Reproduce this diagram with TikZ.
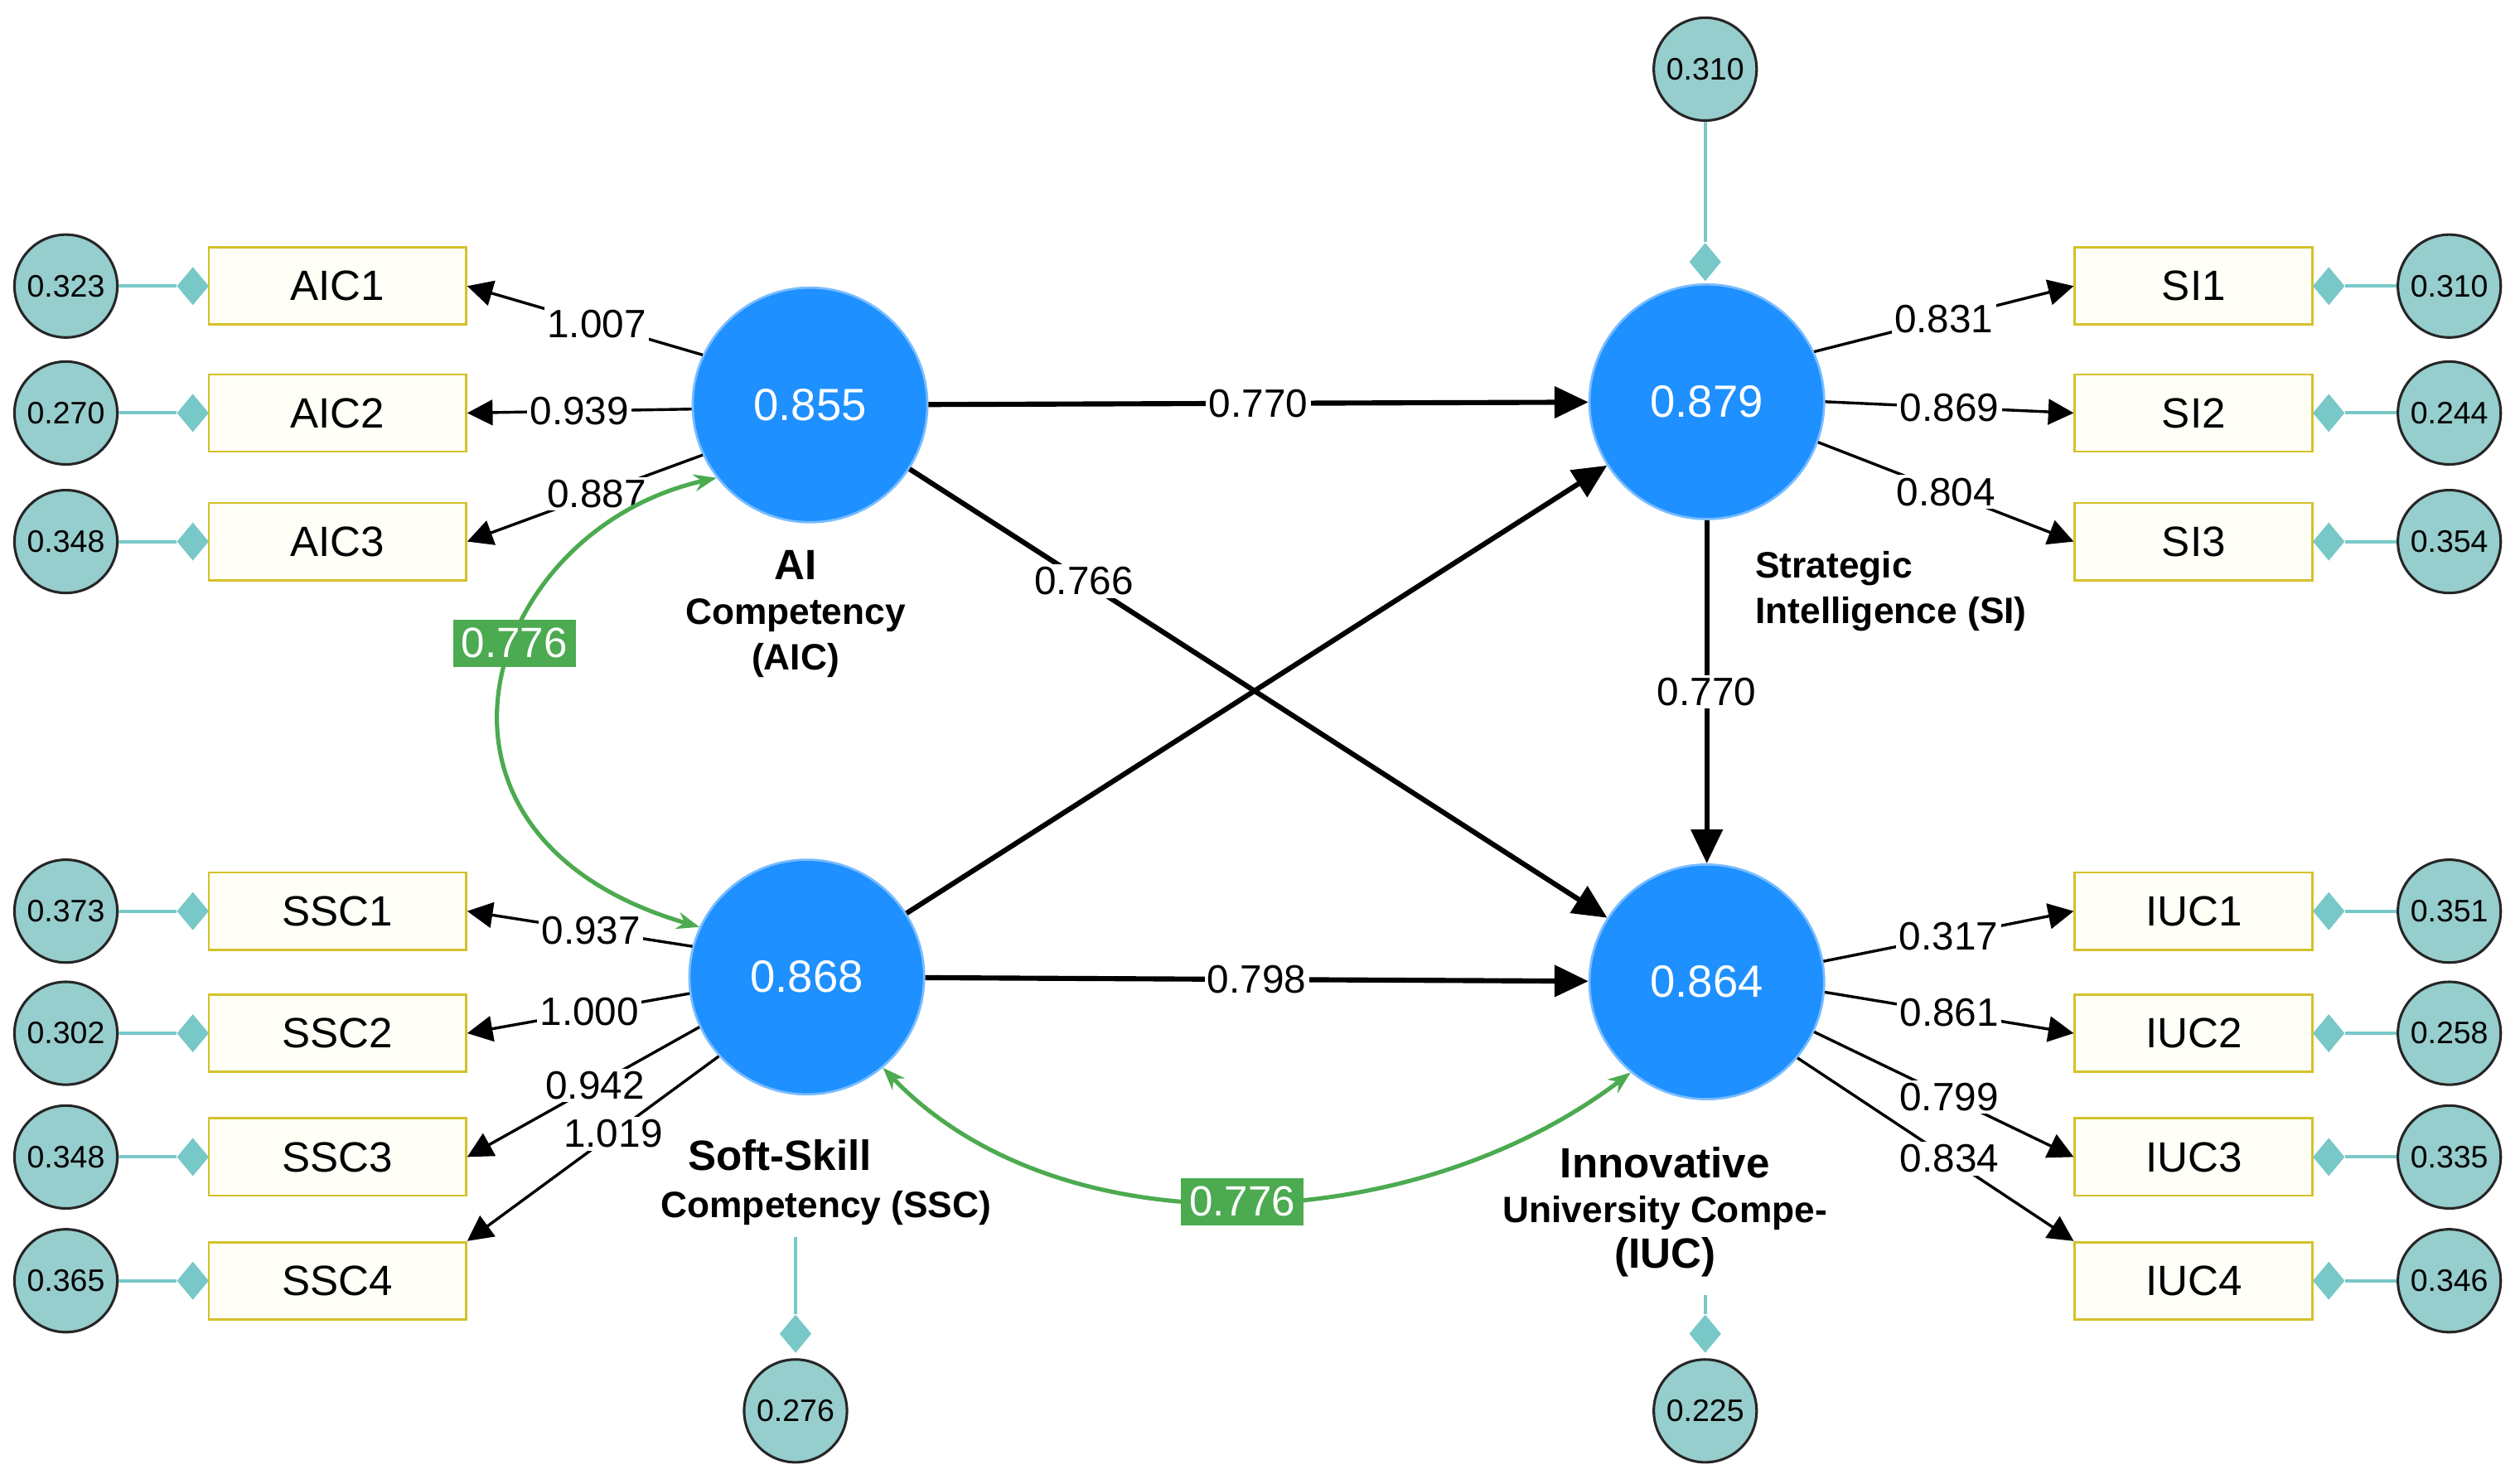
\documentclass[tikz,border=0pt]{standalone}
\usepackage{fontspec}
\setmainfont{Liberation Sans}
\usetikzlibrary{arrows.meta,shapes.geometric}
\definecolor{latblue}{RGB}{30,144,255}
\definecolor{errfill}{RGB}{150,205,205}
\definecolor{errline}{RGB}{120,200,200}
\definecolor{boxline}{RGB}{212,193,42}
\definecolor{covgreen}{RGB}{76,170,80}

\tikzset{
  latent/.style={circle,draw=latblue!60!white,line width=0.8pt,fill=latblue,minimum size=146\du,text=white,font=\fontsize{16}{16}\selectfont},
  indic/.style={rectangle,draw=boxline,line width=0.8pt,fill=yellow!3,minimum width=160\du,minimum height=48\du,font=\fontsize{15}{15}\selectfont},
  err/.style={circle,draw=black!85,line width=0.9pt,fill=errfill,minimum size=64\du,inner sep=0pt,font=\fontsize{11}{11}\selectfont},
  dia/.style={diamond,fill=errline,minimum width=20\du,minimum height=24\du,inner sep=0pt},
  errlink/.style={errline,line width=1.2pt},
  load/.style={black,line width=1pt,-{Triangle[length=9pt,width=9pt]}},
  path/.style={black,line width=1.8pt,-{Triangle[length=12pt,width=11pt]}},
  cov/.style={covgreen,line width=1.5pt,{Stealth[length=8pt,open]}-{Stealth[length=8pt,open]}},
  lbl/.style={fill=white,inner sep=1pt,font=\fontsize{14}{14}\selectfont},
  glbl/.style={fill=covgreen,text=white,inner sep=3pt,font=\fontsize{15}{15}\selectfont},
  cname/.style={font=\bfseries\fontsize{13}{16}\selectfont},
}
\newlength{\du}
\setlength{\du}{0.02cm}

\begin{document}
\begin{tikzpicture}[x=\du,y=-\du]
\useasboundingbox (0,0) rectangle (1568,917);
% latent constructs
\node[latent] (AIC) at (504,252) {0.855};
\node[latent] (SI) at (1062,250) {0.879};
\node[latent] (SSC) at (502,608) {0.868};
\node[latent] (IUC) at (1062,611) {0.864};
% construct names
\node[cname,align=center] (AICname) at (495,382) {{\fontsize{15}{15}\selectfont AI}\\Competency\\(AIC)};
\node[cname,align=left,anchor=west] (SIname) at (1086,368) {Strategic\\Intelligence (SI)};
\node[cname,anchor=west] (SSCname1) at (422,719) {\fontsize{15}{15}\selectfont Soft-Skill};
\node[cname,anchor=west] (SSCname2) at (405,752) {Competency (SSC)};
\node[cname,align=center] (IUCname) at (1036,754) {{\fontsize{15}{17}\selectfont Innovative}\\University Compe-\\{\fontsize{15}{15}\selectfont (IUC)}};
% left indicators
\foreach \name/\y/\e in {AIC1/178/0.323, AIC2/257/0.270, AIC3/337/0.348,
    SSC1/567/0.373, SSC2/643/0.302, SSC3/720/0.348, SSC4/797/0.365}{
  \node[indic] (\name) at (210,\y) {\name};
  \node[err] (e\name) at (41,\y) {\e};
  \node[dia] (d\name) at (120,\y) {};
  \draw[errlink] (e\name) -- (d\name);
}
% right indicators
\foreach \name/\y/\e in {SI1/178/0.310, SI2/257/0.244, SI3/337/0.354,
    IUC1/567/0.351, IUC2/643/0.258, IUC3/720/0.335, IUC4/797/0.346}{
  \node[indic,minimum width=148\du] (\name) at (1365,\y) {\name};
  \node[err] (e\name) at (1524,\y) {\e};
  \node[dia] (d\name) at (1449,\y) {};
  \draw[errlink] (e\name) -- (d\name);
}
% structural errors
\node[err] (eSI) at (1061,43) {0.310};
\node[dia] (dSI) at (1061,163) {};
\draw[errlink] (eSI) -- (dSI);
\node[err] (eSSC) at (495,878) {0.276};
\node[dia] (dSSC) at (495,830) {};
\coordinate (tSSC) at (495,770);
\draw[errlink] (tSSC) -- (dSSC);
\node[err] (eIUC) at (1061,878) {0.225};
\node[dia] (dIUC) at (1061,830) {};
\coordinate (tIUC) at (1061,806);
\draw[errlink] (tIUC) -- (dIUC);
% loadings
\draw[load] (AIC.155) -- node[lbl,pos=0.45] {1.007} (AIC1.east);
\draw[load] (AIC.182) -- node[lbl,pos=0.5] {0.939} (AIC2.east);
\draw[load] (AIC.205) -- node[lbl,pos=0.45] {0.887} (AIC3.east);
\draw[load] (SSC.165) -- node[lbl,pos=0.45] {0.937} (SSC1.east);
\draw[load] (SSC.188) -- node[lbl,pos=0.45] {1.000} (SSC2.east);
\draw[load] (SSC.205) -- node[lbl,pos=0.45] {0.942} (SSC3.east);
\draw[load] (SSC.222) -- node[lbl,pos=0.42] {1.019} (SSC4.north east);
\draw[load] (SI.25) -- node[lbl,pos=0.5] {0.831} (SI1.west);
\draw[load] (SI.0) -- node[lbl,pos=0.5] {0.869} (SI2.west);
\draw[load] (SI.-20) -- node[lbl,pos=0.5] {0.804} (SI3.west);
\draw[load] (IUC.10) -- node[lbl,pos=0.5] {0.317} (IUC1.west);
\draw[load] (IUC.-5) -- node[lbl,pos=0.5] {0.861} (IUC2.west);
\draw[load] (IUC.-25) -- node[lbl,pos=0.52] {0.799} (IUC3.west);
\draw[load] (IUC.-40) -- node[lbl,pos=0.55] {0.834} (IUC4.north west);
% structural paths
\draw[path] (AIC) -- node[lbl,pos=0.5] {0.770} (SI);
\draw[path] (AIC) -- node[lbl,pos=0.25] {0.766} (IUC);
\draw[path] (SSC) -- (SI);
\draw[path] (SI) -- node[lbl,pos=0.5] {0.770} (IUC);
\draw[path] (SSC) -- node[lbl,pos=0.5] {0.798} (IUC);
% correlations
\draw[cov] (AIC.218) .. controls (300,330) and (240,520) .. node[glbl,pos=0.42] {0.776} (SSC.155);
\draw[cov] (SSC.-50) .. controls (660,780) and (880,770) .. node[glbl,pos=0.5] {0.776} (IUC.-130);
\end{tikzpicture}
\end{document}
